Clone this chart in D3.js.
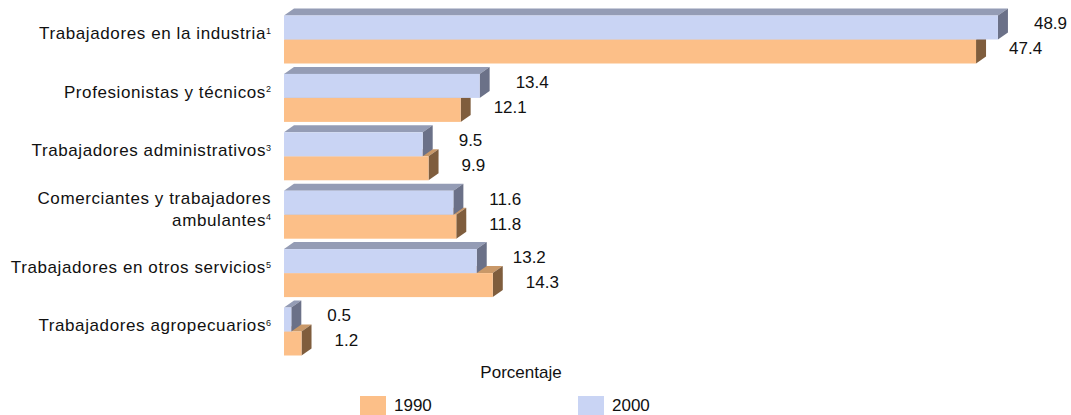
<!DOCTYPE html>
<html>
<head>
<meta charset="utf-8">
<script src="https://cdn.jsdelivr.net/npm/d3@7"></script>
<style>
  body { margin: 0; background: #fff; }
  text { font-family: "Liberation Sans", Arial, sans-serif; fill: #111; }
</style>
</head>
<body>
<div id="chart"></div>
<script>
// data
var categories = [
  ["Trabajadores en la industria", "1"],
  ["Profesionistas y técnicos", "2"],
  ["Trabajadores administrativos", "3"],
  ["Comerciantes y trabajadores|ambulantes", "4"],
  ["Trabajadores en otros servicios", "5"],
  ["Trabajadores agropecuarios", "6"]
];
var values1990 = [47.4, 12.1, 9.9, 11.8, 14.3, 1.2];
var values2000 = [48.9, 13.4, 9.5, 11.6, 13.2, 0.5];
var seriesNames = ["1990", "2000"];
var axisTitle = "Porcentaje";

var width = 1071, height = 415;
var barH = 24, dx = 10, dy = 7;

var colors = {
  "1990": {front: "#fcbf88", top: "#c99868", side: "#7f5d3d"},
  "2000": {front: "#c9d4f4", top: "#949cb5", side: "#6b7188"}
};

var svg = d3.select("#chart").append("svg")
  .attr("width", width)
  .attr("height", height);

var xScale = d3.scaleLinear()
  .domain([0, 50])
  .range([284, 1014]);

var yScale = d3.scalePoint()
  .domain(d3.range(categories.length))
  .range([39.5, 331.5]);

// one 3d bar: front rect, top face, side face
function bar3d(g, v, y, col) {
  var x0 = xScale(0), x1 = xScale(v);
  g.append("path")
    .attr("d", "M" + x0 + "," + y + "L" + (x0 + dx) + "," + (y - dy) +
      "L" + (x1 + dx) + "," + (y - dy) + "L" + x1 + "," + y + "Z")
    .attr("fill", col.top);
  g.append("path")
    .attr("d", "M" + x1 + "," + y + "L" + (x1 + dx) + "," + (y - dy) +
      "L" + (x1 + dx) + "," + (y + barH - dy) + "L" + x1 + "," + (y + barH) + "Z")
    .attr("fill", col.side);
  g.append("rect")
    .attr("x", x0).attr("y", y)
    .attr("width", x1 - x0).attr("height", barH)
    .attr("fill", col.front);
}

var bars = svg.append("g");
categories.forEach(function(c, i) {
  var yc = yScale(i);
  var g = bars.append("g");
  // orange sits below, drawn first so the blue bar covers its top face
  bar3d(g, values1990[i], yc, colors["1990"]);
  bar3d(g, values2000[i], yc - barH, colors["2000"]);

  g.append("text")
    .attr("x", xScale(values2000[i]) + 36)
    .attr("y", yc - 16)
    .attr("dy", "0.35em")
    .attr("font-size", 17)
    .text(d3.format(".1f")(values2000[i]));
  g.append("text")
    .attr("x", xScale(values1990[i]) + 33)
    .attr("y", yc + 9)
    .attr("dy", "0.35em")
    .attr("font-size", 17)
    .text(d3.format(".1f")(values1990[i]));
});

// category labels
var labels = svg.append("g");
categories.forEach(function(c, i) {
  var lines = c[0].split("|");
  var yc = yScale(i) - 6 - (lines.length - 1) * 11;
  lines.forEach(function(line, k) {
    var t = labels.append("text")
      .attr("x", 271)
      .attr("y", yc + k * 22)
      .attr("dy", "0.35em")
      .attr("text-anchor", "end")
      .attr("font-size", 17)
      .attr("letter-spacing", 0.6);
    t.append("tspan").text(line);
    if (k == lines.length - 1) {
      t.append("tspan")
        .attr("font-size", 9)
        .attr("letter-spacing", 0)
        .attr("dy", "-0.6em")
        .text(c[1]);
    }
  });
});

// axis title
svg.append("text")
  .attr("x", 521)
  .attr("y", 372)
  .attr("dy", "0.35em")
  .attr("text-anchor", "middle")
  .attr("font-size", 17)
  .text(axisTitle);

// legend
var legendX = [360, 578];
seriesNames.forEach(function(s, i) {
  svg.append("rect")
    .attr("x", legendX[i]).attr("y", 396)
    .attr("width", 26).attr("height", 19)
    .attr("fill", colors[s].front);
  svg.append("text")
    .attr("x", legendX[i] + 34)
    .attr("y", 405)
    .attr("dy", "0.35em")
    .attr("font-size", 17)
    .text(s);
});
</script>
</body>
</html>
